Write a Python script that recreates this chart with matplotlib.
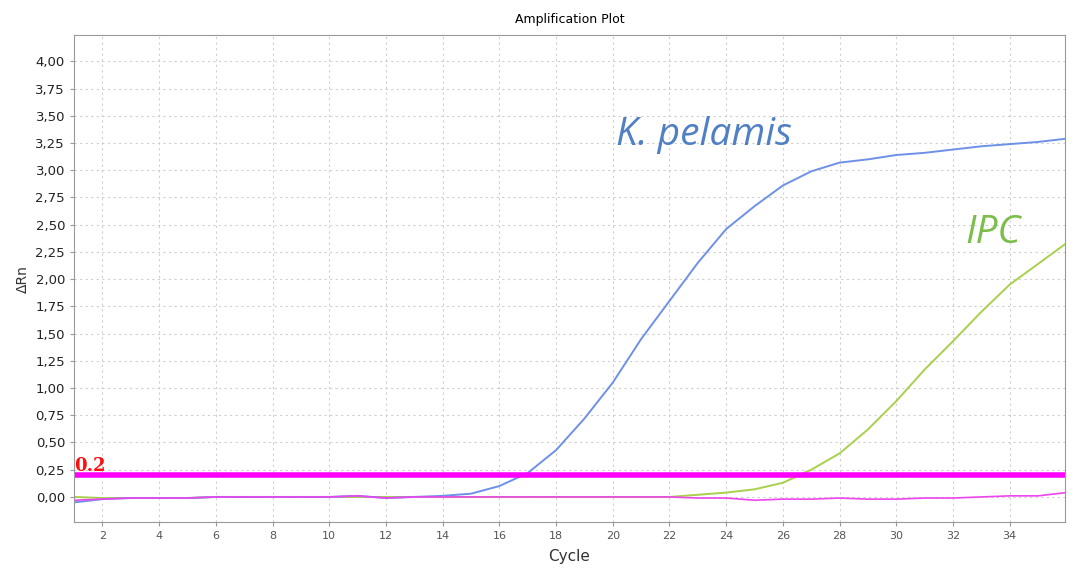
import matplotlib.pyplot as plt
from matplotlib.ticker import FuncFormatter, MultipleLocator

# Ciclos y valores de fluorescencia (ΔRn)
cycles = list(range(1, 37))
k_pelamis = [-0.05, -0.02, -0.01, -0.01, -0.01, 0.00, 0.00, 0.00, 0.00, 0.00,
             0.01, -0.01, 0.00, 0.01, 0.03, 0.10, 0.22, 0.43, 0.72, 1.05,
             1.45, 1.80, 2.15, 2.46, 2.67, 2.86, 2.99, 3.07, 3.10, 3.14,
             3.16, 3.19, 3.22, 3.24, 3.26, 3.29]
ipc = [0.00, -0.01, -0.01, -0.01, -0.01, 0.00, 0.00, 0.00, 0.00, 0.00,
       0.00, 0.00, 0.00, 0.00, 0.00, 0.00, 0.00, 0.00, 0.00, 0.00,
       0.00, 0.00, 0.02, 0.04, 0.07, 0.13, 0.25, 0.40, 0.62, 0.88,
       1.17, 1.43, 1.70, 1.95, 2.14, 2.33]
ntc = [-0.03, -0.02, -0.01, -0.01, -0.01, 0.00, 0.00, 0.00, 0.00, 0.00,
       0.01, -0.01, 0.00, 0.00, 0.00, 0.00, 0.00, 0.00, 0.00, 0.00,
       0.00, 0.00, -0.01, -0.01, -0.03, -0.02, -0.02, -0.01, -0.02, -0.02,
       -0.01, -0.01, 0.00, 0.01, 0.01, 0.04]
threshold = 0.2

fig = plt.figure(figsize=(10.74, 5.68), dpi=100)
ax = fig.add_axes([0.069, 0.081, 0.9226, 0.857])

ax.plot(cycles, ipc, color="#a8d04c", lw=1.4)
ax.plot(cycles, k_pelamis, color="#6e90e8", lw=1.4)
ax.plot(cycles, ntc, color="#ee44ee", lw=1.2)
ax.axhline(threshold, color="#ff00ff", lw=4)
ax.text(1.0, threshold + 0.005, "0.2", color="#ff1010", fontsize=13,
        fontweight="bold", family="DejaVu Serif", va="bottom", ha="left")

ax.text(23.2, 3.32, "K. pelamis", color="#4f7fc4", fontsize=28,
        style="italic", family="Open Sans", ha="center", va="center")
ax.text(32.45, 2.42, "IPC", color="#7cbd4a", fontsize=28,
        style="italic", family="Open Sans", ha="left", va="center")

ax.set_xlim(1, 35.95)
ax.set_ylim(-0.23, 4.24)
ax.xaxis.set_major_locator(MultipleLocator(2))
ax.yaxis.set_major_locator(MultipleLocator(0.25))
ax.yaxis.set_major_formatter(FuncFormatter(lambda v, p: f"{v:.2f}".replace(".", ",")))
ax.grid(True, color="#cfcfcf", ls=(0, (2, 3)), lw=0.8)

for s in ax.spines.values():
    s.set_color("#999999")
ax.tick_params(axis="both", color="#999999", length=3)
ax.tick_params(axis="y", labelsize=9.5, labelcolor="#222222")
ax.tick_params(axis="x", labelsize=8, labelcolor="#555555")

ax.set_title("Amplification Plot", fontsize=9, pad=9)
ax.set_xlabel("Cycle", fontsize=11, color="#333333", labelpad=6)
ax.set_ylabel("ΔRn", fontsize=10, color="#333333")

plt.savefig("out.png", dpi=100)
